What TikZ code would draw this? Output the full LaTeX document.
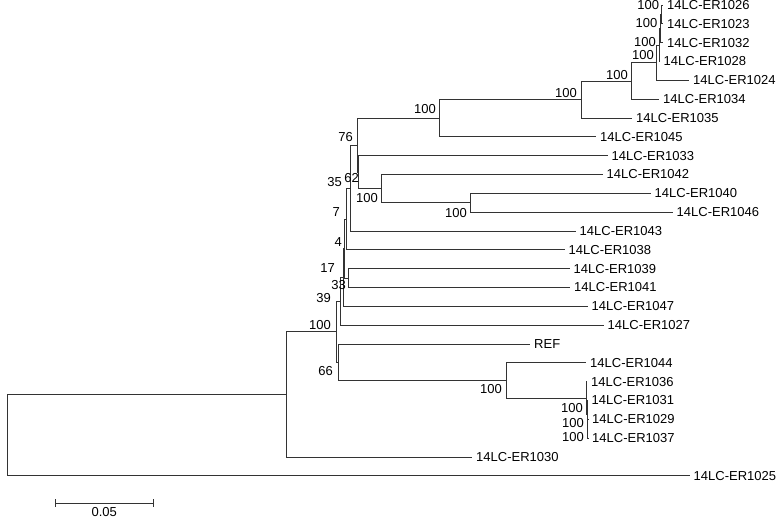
\documentclass[tikz,border=0pt]{standalone}
\usepackage{fontspec}
\setmainfont{Liberation Sans}
\usetikzlibrary{positioning}

\begin{document}
\begin{tikzpicture}
	[x=1pt, y=-1pt, node distance=4pt,
	 branch/.style={draw=black!80, line width=0.75pt},
	 taxon/.style={inner sep=0pt, font=\fontsize{13}{15}\selectfont},
	 boot/.style={anchor=east, inner sep=0pt, font=\fontsize{13}{15}\selectfont}]
   \useasboundingbox (0,0) rectangle (778,519);
   % tips
   \coordinate (t1026) at (663,5);
   \coordinate (t1023) at (663,23.83);
   \coordinate (t1032) at (663,42.66);
   \coordinate (t1028) at (659.5,61.49);
   \coordinate (t1024) at (689,80.32);
   \coordinate (t1034) at (659,99.15);
   \coordinate (t1035) at (632,117.98);
   \coordinate (t1045) at (596,136.81);
   \coordinate (t1033) at (607.5,155.64);
   \coordinate (t1042) at (602.5,174.47);
   \coordinate (t1040) at (650.5,193.3);
   \coordinate (t1046) at (672.5,212.13);
   \coordinate (t1043) at (575.5,230.96);
   \coordinate (t1038) at (564.5,249.79);
   \coordinate (t1039) at (569.5,268.62);
   \coordinate (t1041) at (570,287.45);
   \coordinate (t1047) at (587.5,306.28);
   \coordinate (t1027) at (603.5,325.11);
   \coordinate (tREF) at (530,343.94);
   \coordinate (t1044) at (586,362.77);
   \coordinate (t1036) at (587,381.6);
   \coordinate (t1031) at (587.5,400.43);
   \coordinate (t1029) at (588,419.26);
   \coordinate (t1037) at (588,438.09);
   \coordinate (t1030) at (472,456.92);
   \coordinate (t1025) at (689.5,475.75);
   % inner nodes
   \coordinate (n_a) at (661,14.42);
   \coordinate (n_b) at (660.5,28.54);
   \coordinate (n_c) at (659,45.01);
   \coordinate (n_d) at (656.7,62.67);
   \coordinate (n_e) at (631.7,80.91);
   \coordinate (n_f) at (581.7,99.45);
   \coordinate (n_g) at (439,118.13);
   \coordinate (n_470) at (470.7,202.72);
   \coordinate (n_382) at (381.7,188.59);
   \coordinate (n_62) at (358.7,172.12);
   \coordinate (n_76) at (357.3,145.12);
   \coordinate (n_35) at (350.7,188.04);
   \coordinate (n_7) at (346.3,218.92);
   \coordinate (n_33) at (348.7,278.04);
   \coordinate (n_4) at (344,248.48);
   \coordinate (n_17) at (343,277.38);
   \coordinate (n_39) at (340.7,301.25);
   \coordinate (n_h1) at (587.5,428.68);
   \coordinate (n_h2) at (587,414.55);
   \coordinate (n_h3) at (586,398.08);
   \coordinate (n_505) at (506,380.42);
   \coordinate (n_66) at (338.5,362.18);
   \coordinate (n_100) at (336,331.72);
   \coordinate (n_U) at (286,394.32);
   \coordinate (n_root) at (7.3,435.04);

   \path[branch]
    (n_a) |- (t1026)
    (n_a) |- (t1023)
    (n_b) |- (n_a)
    (n_b) |- (t1032)
    (n_c) |- (n_b)
    (n_c) |- (t1028)
    (n_d) |- (n_c)
    (n_d) |- (t1024)
    (n_e) |- (n_d)
    (n_e) |- (t1034)
    (n_f) |- (n_e)
    (n_f) |- (t1035)
    (n_g) |- (n_f)
    (n_g) |- (t1045)
    (n_470) |- (t1040)
    (n_470) |- (t1046)
    (n_382) |- (t1042)
    (n_382) |- (n_470)
    (n_62) |- (t1033)
    (n_62) |- (n_382)
    (n_76) |- (n_g)
    (n_76) |- (n_62)
    (n_35) |- (n_76)
    (n_35) |- (t1043)
    (n_7) |- (n_35)
    (n_7) |- (t1038)
    (n_33) |- (t1039)
    (n_33) |- (t1041)
    (n_4) |- (n_7)
    (n_4) |- (n_33)
    (n_17) |- (n_4)
    (n_17) |- (t1047)
    (n_39) |- (n_17)
    (n_39) |- (t1027)
    (n_h1) |- (t1029)
    (n_h1) |- (t1037)
    (n_h2) |- (t1031)
    (n_h2) |- (n_h1)
    (n_h3) |- (t1036)
    (n_h3) |- (n_h2)
    (n_505) |- (t1044)
    (n_505) |- (n_h3)
    (n_66) |- (tREF)
    (n_66) |- (n_505)
    (n_100) |- (n_39)
    (n_100) |- (n_66)
    (n_U) |- (n_100)
    (n_U) |- (t1030)
    (n_root) |- (n_U)
    (n_root) |- (t1025);

   % taxa
   \node[taxon] (l1026) [right=of t1026] {14LC-ER1026};
   \node[taxon] (l1023) [right=of t1023] {14LC-ER1023};
   \node[taxon] (l1032) [right=of t1032] {14LC-ER1032};
   \node[taxon] (l1028) [right=of t1028] {14LC-ER1028};
   \node[taxon] (l1024) [right=of t1024] {14LC-ER1024};
   \node[taxon] (l1034) [right=of t1034] {14LC-ER1034};
   \node[taxon] (l1035) [right=of t1035] {14LC-ER1035};
   \node[taxon] (l1045) [right=of t1045] {14LC-ER1045};
   \node[taxon] (l1033) [right=of t1033] {14LC-ER1033};
   \node[taxon] (l1042) [right=of t1042] {14LC-ER1042};
   \node[taxon] (l1040) [right=of t1040] {14LC-ER1040};
   \node[taxon] (l1046) [right=of t1046] {14LC-ER1046};
   \node[taxon] (l1043) [right=of t1043] {14LC-ER1043};
   \node[taxon] (l1038) [right=of t1038] {14LC-ER1038};
   \node[taxon] (l1039) [right=of t1039] {14LC-ER1039};
   \node[taxon] (l1041) [right=of t1041] {14LC-ER1041};
   \node[taxon] (l1047) [right=of t1047] {14LC-ER1047};
   \node[taxon] (l1027) [right=of t1027] {14LC-ER1027};
   \node[taxon] (lREF) [right=of tREF] {REF};
   \node[taxon] (l1044) [right=of t1044] {14LC-ER1044};
   \node[taxon] (l1036) [right=of t1036] {14LC-ER1036};
   \node[taxon] (l1031) [right=of t1031] {14LC-ER1031};
   \node[taxon] (l1029) [right=of t1029] {14LC-ER1029};
   \node[taxon] (l1037) [right=of t1037] {14LC-ER1037};
   \node[taxon] (l1030) [right=of t1030] {14LC-ER1030};
   \node[taxon] (l1025) [right=of t1025] {14LC-ER1025};

   % bootstrap values
   \node[boot] (b_a) at (659.3,5.5) {100};
   \node[boot] (b_b) at (657.5,22.7) {100};
   \node[boot] (b_c) at (656,41.7) {100};
   \node[boot] (b_d) at (654,55) {100};
   \node[boot] (b_e) at (628,75) {100};
   \node[boot] (b_f) at (577,92.7) {100};
   \node[boot] (b_g) at (436,109.3) {100};
   \node[boot] (b_76) at (353,136.7) {76};
   \node[boot] (b_35) at (342,181.7) {35};
   \node[boot] (b_62) at (359,178.3) {62};
   \node[boot] (b_382) at (378,198.3) {100};
   \node[boot] (b_470) at (467,213.3) {100};
   \node[boot] (b_7) at (340,211.7) {7};
   \node[boot] (b_4) at (342,241.7) {4};
   \node[boot] (b_17) at (335,268) {17};
   \node[boot] (b_33) at (346,285) {33};
   \node[boot] (b_39) at (331,297.7) {39};
   \node[boot] (b_100) at (331,325) {100};
   \node[boot] (b_66) at (333,371) {66};
   \node[boot] (b_505) at (502,389) {100};
   \node[boot] (b_h3) at (583,408) {100};
   \node[boot] (b_h2) at (584,423) {100};
   \node[boot] (b_h1) at (584,436.7) {100};

   % scale bar
   \coordinate (s_0) at (55.7,503);
   \coordinate (s_1) at (153,503);
   \draw[branch] (s_0) -- (s_1);
   \draw[branch] ([yshift=-3.7pt]s_0) -- ([yshift=3.7pt]s_0);
   \draw[branch] ([yshift=-3.7pt]s_1) -- ([yshift=3.7pt]s_1);
   \node[taxon] (s_lab) at (104.3,512) {0.05};

\end{tikzpicture}
\end{document}
